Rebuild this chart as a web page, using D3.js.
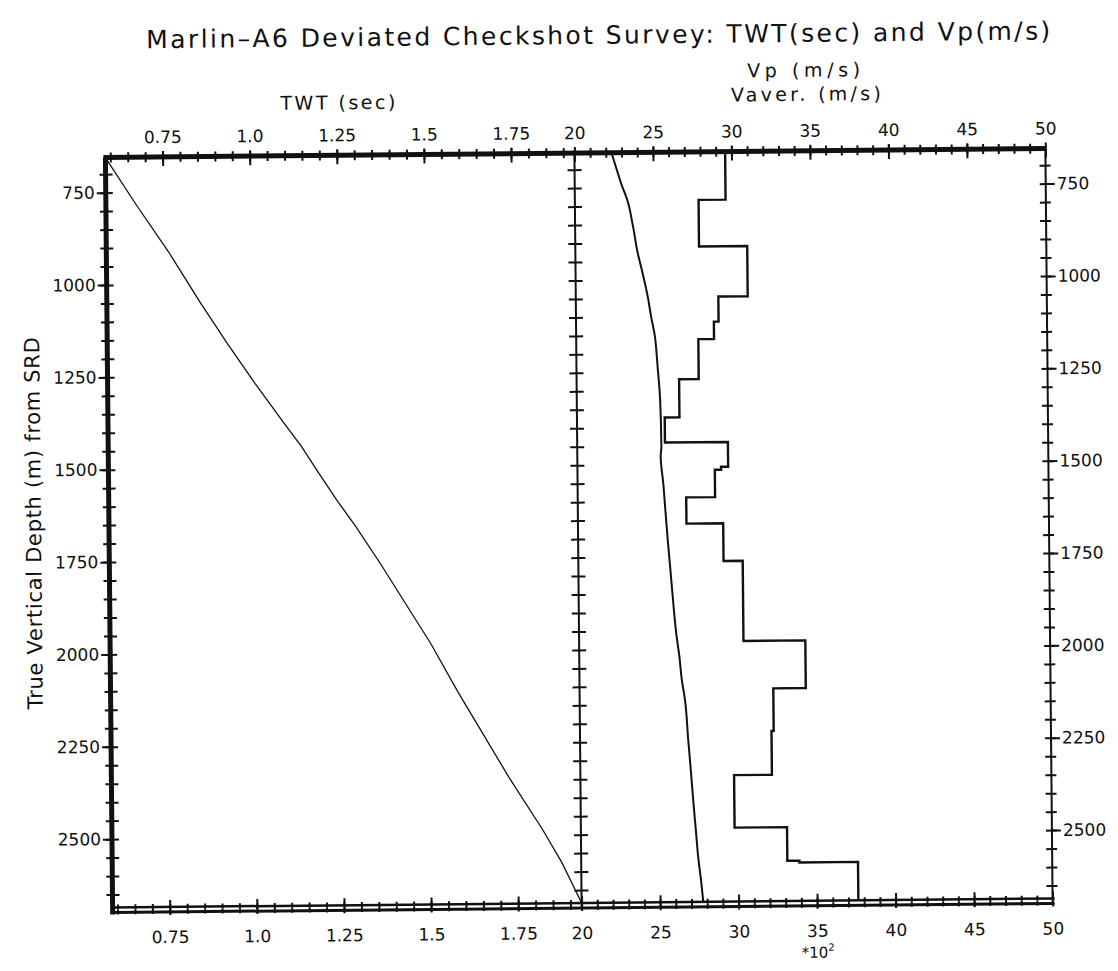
<!DOCTYPE html>
<html>
<head>
<meta charset="utf-8">
<script src="https://d3js.org/d3.v7.min.js"></script>
<style>
  body { margin: 0; background: #fff; }
</style>
</head>
<body>
<div id="chart"></div>
<script>
// TWT curve: depth (m from SRD) and two-way time (sec)
const twtDepth = [655, 785, 911, 1047, 1162, 1270, 1373, 1441, 1508, 1590, 1661, 1763, 1980, 2109, 2343, 2485, 2576, 2685];
const twtSec   = [0.586, 0.674, 0.764, 0.852, 0.931, 1.009, 1.087, 1.140, 1.185, 1.242, 1.295, 1.365, 1.507, 1.582, 1.727, 1.822, 1.877, 1.932];

// average velocity (x100 m/s)
const vavDepth = [655, 700, 740, 785, 853, 929, 965, 1047, 1101, 1146, 1236, 1326, 1452, 1479, 1552, 1633, 1705, 1786, 1885, 1957, 2021, 2084, 2138, 2246, 2318, 2409, 2490, 2562, 2634, 2685];
const vavVel   = [22.36, 22.68, 22.97, 23.35, 23.68, 23.98, 24.18, 24.59, 24.79, 24.99, 25.17, 25.31, 25.36, 25.31, 25.46, 25.59, 25.71, 25.86, 26.04, 26.19, 26.38, 26.52, 26.71, 26.89, 27.02, 27.17, 27.32, 27.45, 27.64, 27.75];

// interval velocity: top of each layer and its Vp (x100 m/s)
const vpTop = [655, 785, 911, 1047, 1115, 1162, 1270, 1373, 1441, 1508, 1516, 1590, 1661, 1763, 1980, 2109, 2224, 2343, 2485, 2576, 2581];
const vpVel = [29.6, 27.88, 30.95, 29.08, 28.78, 27.78, 26.53, 25.59, 29.6, 29.15, 28.75, 26.91, 29.25, 30.47, 34.41, 32.34, 32.2, 29.79, 33.13, 33.9, 37.63];
const vpBase = 2685;

// tick labels
const twtTicks = [0.75, 1.0, 1.25, 1.5, 1.75];
const twtLabels = ["0.75", "1.0", "1.25", "1.5", "1.75"];
const velTicks = [20, 25, 30, 35, 40, 45, 50];
const depthTicks = [750, 1000, 1250, 1500, 1750, 2000, 2250, 2500];

const width = 1118, height = 971;
const L = 109, M = 578, R = 1049, T = 153, B = 903;
const ink = "#111";
const labelFont = "'DejaVu Sans', sans-serif";

const svg = d3.select("#chart").append("svg")
  .attr("width", width)
  .attr("height", height)
  .style("background", "#fff");

// the scan is slightly rotated
const plot = svg.append("g").attr("transform", "rotate(-0.55 579 528)");

const x1 = d3.scaleLinear().domain([0.586, 1.932]).range([L, M]);
const x2 = d3.scaleLinear().domain([20, 50]).range([M, R]);
const y = d3.scaleLinear().domain([655, 2685]).range([T, B]);

const twtMinor = d3.range(12, 39).map(i => i * 0.05);
const velMinor = d3.range(21, 50);
const depthMinor = d3.range(14, 54).map(i => i * 50);

function axisPart(axis, scale, values, size, pos, fmt, pad) {
  const a = axis(scale).tickValues(values).tickSize(size).tickPadding(pad || 3)
    .tickFormat(fmt || "");
  const g = plot.append("g").attr("transform", pos).call(a);
  g.select(".domain").remove();
  g.selectAll("line").attr("stroke", ink).attr("stroke-width", 2);
  g.selectAll("text")
    .attr("font-size", 17)
    .attr("font-family", labelFont)
    .attr("fill", ink);
  return g;
}

// frame lines
plot.append("line").attr("x1", L - 2).attr("x2", R + 1).attr("y1", T).attr("y2", T)
  .attr("stroke", ink).attr("stroke-width", 5);
plot.append("line").attr("x1", L).attr("x2", L).attr("y1", T).attr("y2", B + 7)
  .attr("stroke", ink).attr("stroke-width", 5);
plot.append("line").attr("x1", L).attr("x2", R + 2).attr("y1", B).attr("y2", B)
  .attr("stroke", ink).attr("stroke-width", 2.5);
plot.append("line").attr("x1", L).attr("x2", R + 2).attr("y1", B + 5).attr("y2", B + 5)
  .attr("stroke", ink).attr("stroke-width", 3);
plot.append("line").attr("x1", M).attr("x2", M).attr("y1", T).attr("y2", B + 5)
  .attr("stroke", ink).attr("stroke-width", 2);
plot.append("line").attr("x1", R).attr("x2", R).attr("y1", T).attr("y2", B + 5)
  .attr("stroke", ink).attr("stroke-width", 2);

// top axis
axisPart(d3.axisTop, x1, twtMinor, 5, `translate(0,${T})`);
axisPart(d3.axisBottom, x1, twtMinor, 5, `translate(0,${T})`);
axisPart(d3.axisTop, x2, velMinor, 5, `translate(0,${T})`);
axisPart(d3.axisBottom, x2, velMinor, 5, `translate(0,${T})`);
axisPart(d3.axisBottom, x1, twtTicks, 9, `translate(0,${T})`);
axisPart(d3.axisBottom, x2, velTicks, 9, `translate(0,${T})`);
axisPart(d3.axisTop, x1, twtTicks, 6, `translate(0,${T})`, (d, i) => twtLabels[i], 8);
axisPart(d3.axisTop, x2, velTicks, 6, `translate(0,${T})`, d => d, 8);

// bottom axis
axisPart(d3.axisTop, x1, twtMinor, 5, `translate(0,${B + 2})`);
axisPart(d3.axisBottom, x1, twtMinor, 5, `translate(0,${B + 2})`);
axisPart(d3.axisTop, x2, velMinor, 5, `translate(0,${B + 2})`);
axisPart(d3.axisBottom, x2, velMinor, 5, `translate(0,${B + 2})`);
axisPart(d3.axisTop, x1, twtTicks, 9, `translate(0,${B + 2})`);
axisPart(d3.axisTop, x2, velTicks, 9, `translate(0,${B + 2})`);
axisPart(d3.axisBottom, x1, twtTicks, 6, `translate(0,${B + 2})`, (d, i) => twtLabels[i], 16);
axisPart(d3.axisBottom, x2, velTicks, 6, `translate(0,${B + 2})`, d => d, 16);

// left axis
axisPart(d3.axisLeft, y, depthMinor, 6, `translate(${L},0)`);
axisPart(d3.axisRight, y, depthMinor, 7, `translate(${L},0)`);
axisPart(d3.axisLeft, y, depthTicks, 9, `translate(${L},0)`, d => d, 2);

// divider
axisPart(d3.axisLeft, y, depthMinor, 7, `translate(${M},0)`);
axisPart(d3.axisRight, y, depthMinor, 7, `translate(${M},0)`);

// right axis
axisPart(d3.axisLeft, y, depthMinor, 6, `translate(${R},0)`);
axisPart(d3.axisRight, y, depthMinor, 5, `translate(${R},0)`);
axisPart(d3.axisRight, y, depthTicks, 9, `translate(${R},0)`, d => d, 2);

// curves
const twtLine = d3.line().x(i => x1(twtSec[i])).y(i => y(twtDepth[i]));
plot.append("path")
  .attr("d", twtLine(d3.range(twtSec.length)))
  .attr("fill", "none").attr("stroke", ink).attr("stroke-width", 1.3);

const vavLine = d3.line().curve(d3.curveMonotoneY)
  .x(i => x2(vavVel[i])).y(i => y(vavDepth[i]));
plot.append("path")
  .attr("d", vavLine(d3.range(vavVel.length)))
  .attr("fill", "none").attr("stroke", ink).attr("stroke-width", 2);

const vpPts = [];
vpTop.forEach((top, i) => {
  const base = i < vpTop.length - 1 ? vpTop[i + 1] : vpBase;
  vpPts.push([vpVel[i], top], [vpVel[i], base]);
});
plot.append("path")
  .attr("d", d3.line().x(d => x2(d[0])).y(d => y(d[1]))(vpPts))
  .attr("fill", "none").attr("stroke", ink).attr("stroke-width", 2.4);

// titles
function label(x, yy, size, len, txt) {
  return plot.append("text")
    .attr("x", x).attr("y", yy)
    .attr("text-anchor", "middle")
    .attr("font-family", labelFont).attr("font-size", size).attr("fill", ink)
    .attr("textLength", len).attr("lengthAdjust", "spacing")
    .text(txt);
}

label(603, 44, 25, 904, "Marlin\u2013A6 Deviated Checkshot Survey: TWT(sec) and Vp(m/s)");
label(342, 107, 19, 115, "TWT (sec)");
label(808, 79, 19, 113, "Vp (m/s)");
label(810, 103, 19, 150, "Vaver. (m/s)");

plot.append("text")
  .attr("transform", `translate(41,518) rotate(-90)`)
  .attr("text-anchor", "middle")
  .attr("font-family", labelFont).attr("font-size", 21).attr("fill", ink)
  .attr("textLength", 372).attr("lengthAdjust", "spacing")
  .text("True Vertical Depth (m) from SRD");

const mult = plot.append("text")
  .attr("x", 814).attr("y", 960)
  .attr("text-anchor", "middle")
  .attr("font-family", labelFont).attr("font-size", 15).attr("fill", ink);
mult.append("tspan").text("*10");
mult.append("tspan").attr("dy", -7).attr("font-size", 10).text("2");
</script>
</body>
</html>
